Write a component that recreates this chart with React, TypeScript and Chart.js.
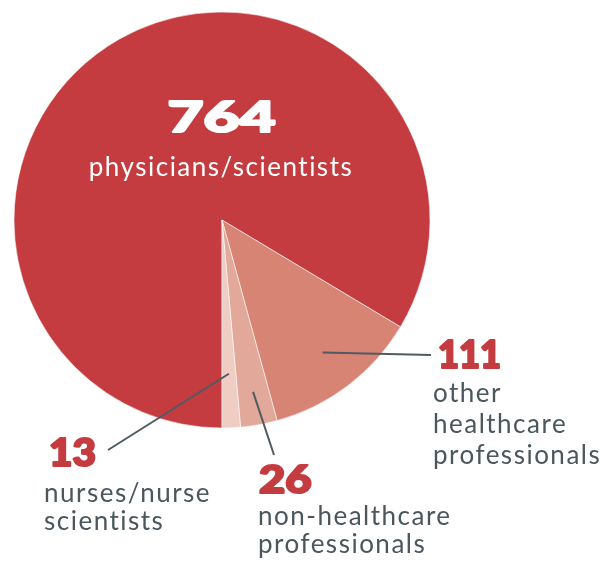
import React, { useEffect, useRef } from "react";
import { Chart, registerables } from "chart.js";

Chart.register(...registerables);

// ---- data ----
const categories = [
  "physicians/scientists",
  "other healthcare professionals",
  "non-healthcare professionals",
  "nurses/nurse scientists",
];
const values = [764, 111, 26, 13];
const labelLines = [
  ["physicians/scientists"],
  ["other", "healthcare", "professionals"],
  ["non-healthcare", "professionals"],
  ["nurses/nurse", "scientists"],
];

// ---- styles / layout ----
const colors = ["#C43C40", "#D88475", "#E2A899", "#EFCDC2"];
const RED = "#C43C40";
const GREY = "#4B565D";
const W = 604;
const H = 563;

type Lab = {
  numX: number; numBase: number; numW: number; numSize: number;
  textX: number; textBase: number[]; align: CanvasTextAlign; color: string; numColor: string;
  leaderFrac?: number; leaderEnd?: [number, number];
};
const layout: Lab[] = [
  { numX: 222, numBase: 133, numW: 111, numSize: 42, textX: 221, textBase: [176], align: "center", color: "#FFFFFF", numColor: "#FFFFFF" },
  { numX: 437, numBase: 369, numW: 65, numSize: 38, textX: 433, textBase: [402, 433, 464], align: "left", color: GREY, numColor: RED, leaderFrac: 0.8, leaderEnd: [431, 355] },
  { numX: 258, numBase: 494, numW: 55, numSize: 38, textX: 258, textBase: [525, 553], align: "left", color: GREY, numColor: RED, leaderFrac: 0.84, leaderEnd: [274, 455] },
  { numX: 48, numBase: 467, numW: 49, numSize: 38, textX: 44, textBase: [502, 530], align: "left", color: GREY, numColor: RED, leaderFrac: 0.74, leaderEnd: [108, 450] },
];

const labelPlugin = {
  id: "labelPlugin",
  afterDraw(chart: any) {
    const ctx: any = chart.ctx;
    const meta = chart.getDatasetMeta(0);
    ctx.save();
    meta.data.forEach((arc: any, i: number) => {
      const L = layout[i];
      const p = arc.getProps(["x", "y", "startAngle", "endAngle", "outerRadius"], true);
      // leader line
      if (L.leaderFrac && L.leaderEnd) {
        const mid = (p.startAngle + p.endAngle) / 2;
        const r = p.outerRadius * L.leaderFrac;
        ctx.beginPath();
        ctx.moveTo(p.x + Math.cos(mid) * r, p.y + Math.sin(mid) * r);
        ctx.lineTo(L.leaderEnd[0], L.leaderEnd[1]);
        ctx.strokeStyle = "#4F5A61";
        ctx.lineWidth = 2;
        ctx.stroke();
      }
      // number
      const numStr = String(values[i]);
      ctx.letterSpacing = "0px";
      ctx.font = `900 ${L.numSize}px Lato, 'DejaVu Sans', sans-serif`;
      const mw = ctx.measureText(numStr).width + 2;
      const sx = L.numW / mw;
      ctx.save();
      ctx.fillStyle = L.numColor;
      ctx.strokeStyle = L.numColor;
      ctx.lineWidth = 2.2;
      ctx.lineJoin = "round";
      ctx.textBaseline = "alphabetic";
      ctx.textAlign = "left";
      const left = L.align === "center" ? L.numX - L.numW / 2 : L.numX;
      ctx.translate(left + 1, L.numBase - 1);
      ctx.scale(sx, 1);
      ctx.fillText(numStr, 0, 0);
      ctx.strokeText(numStr, 0, 0);
      ctx.restore();
      // text lines
      ctx.font = `400 26px Lato, 'DejaVu Sans', sans-serif`;
      ctx.letterSpacing = "1.5px";
      ctx.fillStyle = L.color;
      ctx.textAlign = L.align;
      ctx.textBaseline = "alphabetic";
      labelLines[i].forEach((t, j) => {
        ctx.fillText(t, L.textX, L.textBase[j]);
      });
    });
    ctx.restore();
  },
};

export default function App() {
  const ref = useRef<HTMLCanvasElement | null>(null);
  useEffect(() => {
    if (!ref.current) return;
    const chart = new Chart(ref.current, {
      type: "pie",
      data: {
        labels: categories,
        datasets: [
          {
            data: values,
            backgroundColor: colors,
            borderColor: "rgba(255,255,255,0.55)",
            borderWidth: 1,
            radius: 208,
          } as any,
        ],
      },
      options: {
        responsive: false,
        animation: false,
        devicePixelRatio: 1,
        rotation: 180,
        layout: { padding: { left: 14, right: 174, top: 12, bottom: 135 } },
        plugins: { legend: { display: false }, tooltip: { enabled: false } },
      },
      plugins: [labelPlugin],
    });
    return () => chart.destroy();
  }, []);
  return (
    <div style={{ position: "fixed", left: 0, top: 0, width: W, height: H, background: "#fff" }}>
      <canvas ref={ref} width={W} height={H} style={{ width: W, height: H, display: "block" }} />
    </div>
  );
}
